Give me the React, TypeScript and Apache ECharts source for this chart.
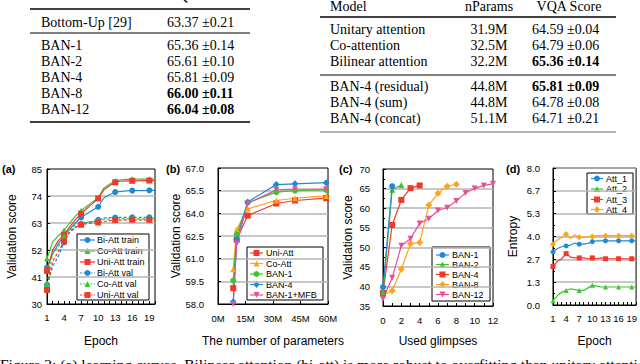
import React, { useEffect, useRef } from 'react';
import * as echarts from 'echarts';

// ---------- tables ----------
const leftHeader = ['Model', 'VQA Score'];
const leftModels = ['Bottom-Up [29]', 'BAN-1', 'BAN-2', 'BAN-4', 'BAN-8', 'BAN-12'];
const leftScores = ['63.37 ±0.21', '65.36 ±0.14', '65.61 ±0.10', '65.81 ±0.09', '66.00 ±0.11', '66.04 ±0.08'];
const leftBold = [false, false, false, false, true, true];

const rightHeader = ['Model', 'nParams', 'VQA Score'];
const rightModels = ['Unitary attention', 'Co-attention', 'Bilinear attention', 'BAN-4 (residual)', 'BAN-4 (sum)', 'BAN-4 (concat)'];
const rightParams = ['31.9M', '32.5M', '32.2M', '44.8M', '44.8M', '51.1M'];
const rightScores = ['64.59 ±0.04', '64.79 ±0.06', '65.36 ±0.14', '65.81 ±0.09', '64.78 ±0.08', '64.71 ±0.21'];
const rightBold = [false, false, true, true, false, false];

const caption = 'Figure 2: (a) learning curves. Bilinear attention (bi-att) is more robust to overfitting than unitary attention';

// ---------- (a) learning curves ----------
const epochs = ['1', '2', '3', '4', '5', '6', '7', '8', '9', '10', '11', '12', '13', '14', '15', '16', '17', '18', '19', '20'];
const biAttTrain = [44.8, 50.5, 54.5, 57.8, 60.5, 63.0, 65.3, 66.8, 68.2, 69.6, 73.2, 74.5, 75.6, 75.9, 76.1, 76.2, 76.2, 76.2, 76.3, 76.3];
const coAttTrain = [48.5, 55.3, 57.8, 60.0, 63.0, 65.8, 68.0, 69.8, 71.6, 73.2, 77.2, 78.8, 80.1, 80.6, 80.8, 80.9, 80.9, 80.9, 80.9, 80.9];
const uniAttTrain = [43.5, 52.0, 55.8, 58.2, 61.4, 64.4, 66.8, 68.9, 70.9, 73.0, 76.5, 78.2, 79.6, 80.0, 80.2, 80.2, 80.2, 80.3, 80.3, 80.3];
const biAttVal = [37.8, 45.3, 49.4, 55.1, 59.2, 61.2, 62.6, 63.2, 63.6, 64.3, 65.0, 65.2, 65.2, 65.3, 65.3, 65.3, 65.3, 65.3, 65.3, 65.3];
const coAttVal = [38.2, 50.7, 53.4, 57.8, 60.2, 62.3, 63.0, 63.4, 63.6, 64.0, 64.5, 64.6, 64.7, 64.7, 64.7, 64.7, 64.7, 64.7, 64.7, 64.7];
const uniAttVal = [35.7, 47.3, 51.4, 55.5, 59.6, 61.3, 62.3, 62.7, 63.0, 63.2, 63.6, 64.0, 64.2, 64.2, 64.3, 64.3, 64.3, 64.3, 64.3, 64.3];

// ---------- (b) number of parameters ----------
const paramsM = [8.3, 10.2, 16.2, 31.8, 42.0, 59.0];
const uniAttB = [59.05, 62.25, 63.85, 64.65, 64.85, 65.0];
const coAttB = [60.3, 62.95, 64.3, 64.85, 65.0, 65.15];
const ban1B = [59.55, 62.6, 64.7, 65.4, 65.5, 65.55];
const ban4B = [58.15, 62.25, 64.75, 65.9, 65.95, 66.03];
const ban1MfbB = [58.0, 62.0, 64.65, 65.55, 65.6, 65.6];

// ---------- (c) used glimpses ----------
const glimpses = [0, 1, 2, 3, 4, 5, 6, 7, 8, 9, 10, 11, 12];
const ban1C = [39.8, 65.6];
const ban2C = [38.5, 64.7, 65.9];
const ban4C = [38.3, 55.7, 62.1, 65.1, 65.8];
const ban8C = [37.8, 38.9, 44.4, 50.9, 51.2, 60.8, 63.8, 65.6, 66.1];
const ban12C = [36.8, 42.2, 50.4, 52.2, 56.1, 57.3, 59.4, 60.1, 61.8, 63.9, 65.0, 65.8, 66.2];

// ---------- (d) entropy ----------
const att1 = [3.1, 3.3, 3.4, 3.45, 3.5, 3.62, 3.55, 3.55, 3.6, 3.7, 3.75, 3.75, 3.75, 3.75, 3.75, 3.75, 3.75, 3.75, 3.75, 3.75];
const att2 = [0.25, 0.55, 0.75, 0.85, 0.95, 0.9, 0.85, 0.85, 1.0, 1.15, 1.1, 1.05, 1.05, 1.05, 1.05, 1.05, 1.05, 1.05, 1.05, 1.05];
const att3 = [2.25, 2.55, 2.7, 3.0, 2.8, 2.75, 2.75, 2.75, 2.7, 2.75, 2.7, 2.75, 2.7, 2.7, 2.7, 2.7, 2.7, 2.7, 2.7, 2.7];
const att4 = [3.55, 3.8, 3.95, 4.15, 3.9, 4.1, 3.95, 3.95, 4.0, 4.0, 4.05, 4.05, 4.05, 4.05, 4.05, 4.05, 4.05, 4.05, 4.05, 4.05];

const BLUE = '#1e8ad6';
const GREEN = '#3cc62e';
const RED = '#f0392b';
const ORANGE = '#ffa317';
const PINK = '#e4509e';

const SANS = 'Liberation Sans';
const SERIF = '"Liberation Serif"';

type Spec = { name: string; data: any[]; color: string; symbol: string; dashed?: boolean; size?: number; z?: number };

const panelA: Spec[] = [
  { name: 'Bi-Att train', data: biAttTrain, color: BLUE, symbol: 'circle' },
  { name: 'Co-Att train', data: coAttTrain, color: GREEN, symbol: 'triangle' },
  { name: 'Uni-Att train', data: uniAttTrain, color: RED, symbol: 'rect' },
  { name: 'Bi-Att val', data: biAttVal, color: BLUE, symbol: 'circle', dashed: true },
  { name: 'Co-Att val', data: coAttVal, color: GREEN, symbol: 'triangle', dashed: true },
  { name: 'Uni-Att val', data: uniAttVal, color: RED, symbol: 'rect', dashed: true },
];
const pairs = (xs: number[], ys: number[]) => ys.map((y, i) => [xs[i], y]);
const panelB: Spec[] = [
  { name: 'Uni-Att', data: pairs(paramsM, uniAttB), color: RED, symbol: 'rect' },
  { name: 'Co-Att', data: pairs(paramsM, coAttB), color: ORANGE, symbol: 'triangle' },
  { name: 'BAN-1', data: pairs(paramsM, ban1B), color: GREEN, symbol: 'circle' },
  { name: 'BAN-4', data: pairs(paramsM, ban4B), color: BLUE, symbol: 'diamond', size: 7 },
  { name: 'BAN-1+MFB', data: pairs(paramsM, ban1MfbB), color: PINK, symbol: 'down' },
];
const panelC: Spec[] = [
  { name: 'BAN-1', data: pairs(glimpses, ban1C), color: BLUE, symbol: 'circle', z: 5 },
  { name: 'BAN-2', data: pairs(glimpses, ban2C), color: GREEN, symbol: 'triangle', z: 4 },
  { name: 'BAN-4', data: pairs(glimpses, ban4C), color: RED, symbol: 'rect', z: 3 },
  { name: 'BAN-8', data: pairs(glimpses, ban8C), color: ORANGE, symbol: 'diamond', size: 7 },
  { name: 'BAN-12', data: pairs(glimpses, ban12C), color: PINK, symbol: 'down' },
];
const panelD: Spec[] = [
  { name: 'Att_1', data: att1, color: BLUE, symbol: 'circle', size: 5 },
  { name: 'Att_2', data: att2, color: GREEN, symbol: 'triangle', size: 5 },
  { name: 'Att_3', data: att3, color: RED, symbol: 'rect', size: 5 },
  { name: 'Att_4', data: att4, color: ORANGE, symbol: 'diamond', size: 6 },
];

function toSeries(s: Spec, idx: number) {
  const down = s.symbol === 'down';
  return {
    type: 'line',
    name: s.name,
    data: s.data,
    xAxisIndex: idx,
    yAxisIndex: idx,
    symbol: down ? 'triangle' : s.symbol,
    symbolRotate: down ? 180 : 0,
    symbolSize: s.size || 6,
    showSymbol: true,
    itemStyle: { color: s.color },
    lineStyle: { color: s.color, width: 1.2, type: s.dashed ? [3, 2] : 'solid' },
    z: s.z || 2,
  };
}

function catX(idx: number, name: string, gap: number) {
  return {
    type: 'category', gridIndex: idx, data: epochs, boundaryGap: false,
    axisLine: { show: true, lineStyle: { color: '#000', width: 1 } },
    axisTick: { show: true, inside: true, interval: 0, length: 3, lineStyle: { color: '#000' } },
    axisLabel: { interval: 2, fontSize: 9.5, margin: 8, color: '#000', fontFamily: SANS },
    splitLine: { show: false },
    name, nameLocation: 'middle', nameGap: gap,
    nameTextStyle: { fontSize: 12, color: '#000', fontFamily: SANS },
  };
}

function valY(idx: number, min: number, max: number, interval: number, gap: number, margin: number, name: string, fmt: any, minor = false) {
  return {
    type: 'value', gridIndex: idx, min, max, interval,
    axisLine: { show: true, lineStyle: { color: '#000', width: 1 } },
    axisTick: { show: true, inside: true, length: 3, lineStyle: { color: '#000' } },
    minorTick: { show: minor, splitNumber: 2, length: 2, lineStyle: { color: '#000' } },
    axisLabel: { fontSize: 9.5, margin, color: '#000', fontFamily: SANS, formatter: fmt },
    splitLine: { show: true, showMinLine: false, showMaxLine: false, lineStyle: { color: '#b5b5b5', width: 1.5 } },
    name, nameLocation: 'middle', nameGap: gap,
    nameTextStyle: { fontSize: 12, color: '#000', fontFamily: SANS },
  };
}

function symbolShape(kind: string, cx: number, cy: number, color: string, s: number): any {
  const h = s / 2;
  const style = { fill: color };
  if (kind === 'circle') return { type: 'circle', shape: { cx, cy, r: h }, style };
  if (kind === 'rect') return { type: 'rect', shape: { x: cx - h, y: cy - h, width: s, height: s }, style };
  if (kind === 'triangle') return { type: 'polygon', shape: { points: [[cx, cy - h], [cx + h, cy + h], [cx - h, cy + h]] }, style };
  if (kind === 'down') return { type: 'polygon', shape: { points: [[cx - h, cy - h], [cx + h, cy - h], [cx, cy + h]] }, style };
  return { type: 'polygon', shape: { points: [[cx, cy - h - 0.5], [cx + h, cy], [cx, cy + h + 0.5], [cx - h, cy]] }, style };
}

// box: [x1, y1, x2, y2]; rows: y centres; iconX: [start, end]; textX
function legendGraphic(specs: Spec[], box: number[], rows: number[], iconX: number[], textX: number) {
  const els: any[] = [
    { type: 'rect', shape: { x: box[0], y: box[1], width: box[2] - box[0], height: box[3] - box[1] }, style: { fill: '#fff', stroke: '#000', lineWidth: 1 } },
  ];
  specs.forEach((s, i) => {
    const y = rows[i];
    els.push({ type: 'line', shape: { x1: iconX[0], y1: y, x2: iconX[1], y2: y }, style: { stroke: s.color, lineWidth: 1.2, lineDash: s.dashed ? [2, 1.5] : null } });
    els.push(symbolShape(s.symbol, (iconX[0] + iconX[1]) / 2, y, s.color, 6));
    els.push({ type: 'text', x: textX, y, style: { text: s.name, font: `9px ${SANS}`, fill: '#000', align: 'left', verticalAlign: 'middle' } });
  });
  return { type: 'group', z: 100, children: els };
}

function buildGraphic() {
  const g: any[] = [];
  const font = (b: boolean) => `${b ? 'bold ' : ''}14px ${SERIF}`;
  const txt = (text: string, x: number, y: number, bold = false, align = 'left') =>
    g.push({ type: 'text', x, y, style: { text, font: font(bold), fill: '#000', align, verticalAlign: 'middle' } });
  const rule = (x1: number, x2: number, y: number, w: number, color = '#000') =>
    g.push({ type: 'line', shape: { x1, y1: y, x2, y2: y }, style: { stroke: color, lineWidth: w } });

  // left table
  txt(leftHeader[0], 41, -5);
  txt(leftHeader[1], 168, -5);
  rule(30, 250, 9, 1.6);
  const leftY = [22, 45, 61, 77, 93, 109];
  leftModels.forEach((m, i) => { txt(m, 41, leftY[i]); txt(leftScores[i], 167, leftY[i], leftBold[i]); });
  rule(30, 250, 33, 1);
  rule(30, 250, 122, 1.6);

  // right table
  txt(rightHeader[0], 330, 6);
  txt(rightHeader[1], 489, 6, false, 'center');
  txt(rightHeader[2], 569, 6, false, 'center');
  rule(320, 616, 17, 1.6);
  const rightY = [29, 45, 61, 86, 102, 118];
  rightModels.forEach((m, i) => {
    txt(m, 330, rightY[i]);
    txt(rightParams[i], 489, rightY[i], false, 'center');
    txt(rightScores[i], 532, rightY[i], rightBold[i]);
  });
  rule(320, 616, 75, 1);
  rule(320, 616, 132, 1.4, '#999');

  // panel labels
  const lab = (t: string, x: number, y: number) =>
    g.push({ type: 'text', x, y, style: { text: t, font: `bold 11px ${SANS}`, fill: '#000', align: 'left', verticalAlign: 'middle' } });
  lab('(a)', 2, 169);
  lab('(b)', 166, 169);
  lab('(c)', 339, 169);
  lab('(d)', 506, 169);

  // legends
  g.push(legendGraphic(panelA, [77, 234, 149, 300], [240, 251, 262, 273, 284, 295], [80, 95], 97));
  g.push(legendGraphic(panelB, [247, 247, 323, 300], [253, 263.5, 274, 284.5, 295], [250, 263], 266));
  g.push(legendGraphic(panelC, [432, 247, 490, 301], [255, 264.5, 274.5, 284.5, 294.5], [436, 449], 452));
  g.push(legendGraphic(panelD, [587, 173, 633, 214], [178.5, 189, 199.5, 209.5], [591, 603], 606));

  // caption
  g.push({ type: 'text', x: 0, y: 356, style: { text: caption, font: `15.5px ${SERIF}`, fill: '#000', align: 'left', verticalAlign: 'top' } });
  return g;
}

export default function App() {
  const ref = useRef<HTMLDivElement>(null);
  useEffect(() => {
    const chart = echarts.init(ref.current!, null, { renderer: 'svg' });
    const option: any = {
      animation: false,
      backgroundColor: '#fff',
      textStyle: { fontFamily: SANS },
      grid: [
        { left: 47, top: 169, width: 108, height: 135, show: true, borderColor: '#000', borderWidth: 1 },
        { left: 218, top: 168, width: 110, height: 136, show: true, borderColor: '#000', borderWidth: 1 },
        { left: 383, top: 169, width: 110, height: 137, show: true, borderColor: '#000', borderWidth: 1 },
        { left: 553, top: 168, width: 85, height: 137, show: true, borderColor: '#000', borderWidth: 1 },
      ],
      xAxis: [
        catX(0, 'Epoch', 31),
        {
          type: 'value', gridIndex: 1, min: 0, max: 60, interval: 15,
          axisLine: { show: true, lineStyle: { color: '#000' } },
          axisTick: { show: true, inside: true, length: 3, lineStyle: { color: '#000' } },
          axisLabel: { fontSize: 9.5, margin: 9, color: '#000', fontFamily: SANS, formatter: (v: number) => v + 'M' },
          splitLine: { show: false },
          name: 'The number of parameters', nameLocation: 'middle', nameGap: 31,
          nameTextStyle: { fontSize: 12, color: '#000', fontFamily: SANS },
        },
        {
          type: 'value', gridIndex: 2, min: 0, max: 12, interval: 2,
          axisLine: { show: true, lineStyle: { color: '#000' } },
          axisTick: { show: true, inside: true, length: 3, lineStyle: { color: '#000' } },
          minorTick: { show: true, splitNumber: 2, length: 3, lineStyle: { color: '#000' } },
          axisLabel: { fontSize: 9.5, margin: 9, color: '#000', fontFamily: SANS },
          splitLine: { show: false },
          name: 'Used glimpses', nameLocation: 'middle', nameGap: 29,
          nameTextStyle: { fontSize: 12, color: '#000', fontFamily: SANS },
        },
        catX(3, 'Epoch', 30),
      ],
      yAxis: [
        valY(0, 30, 85, 11, 29, 5, 'Validation score', (v: number) => String(Math.round(v))),
        valY(1, 58, 67, 1.5, 32, 14, 'Validation score', (v: number) => v.toFixed(1)),
        valY(2, 35, 70, 5, 29, 13, 'Validation score', (v: number) => String(v), true),
        valY(3, 0, 8, 8 / 6, 34, 13, 'Entropy', (v: number) => v.toFixed(1), true),
      ],
      graphic: buildGraphic(),
      series: [
        ...panelA.map((s) => toSeries(s, 0)),
        ...panelB.map((s) => toSeries(s, 1)),
        ...panelC.map((s) => toSeries(s, 2)),
        ...panelD.map((s) => toSeries(s, 3)),
      ],
    };
    chart.setOption(option);
    return () => chart.dispose();
  }, []);
  return <div ref={ref} style={{ position: 'absolute', left: 0, top: 0, width: 640, height: 364, background: '#fff' }} />;
}
